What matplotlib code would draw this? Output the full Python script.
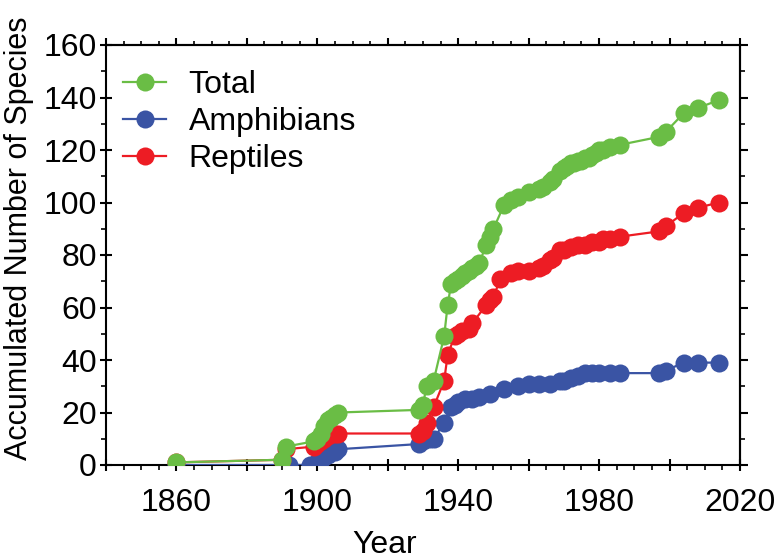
import matplotlib
matplotlib.use("Agg")
import matplotlib.pyplot as plt
from matplotlib.ticker import MultipleLocator

plt.rcParams['font.family'] = ['Liberation Sans', 'DejaVu Sans']

total_years = [1860, 1890, 1891, 1899, 1900, 1901, 1902, 1903, 1904, 1905, 1906,
               1929, 1930, 1931, 1933, 1936, 1937, 1938, 1939, 1940, 1941, 1942,
               1943, 1944, 1945, 1946, 1948, 1949, 1950, 1953, 1955, 1957, 1960,
               1963, 1964, 1966, 1967, 1969, 1970, 1971, 1972, 1973, 1974, 1975,
               1976, 1977, 1978, 1979, 1980, 1981, 1983, 1986, 1997, 1999, 2004,
               2008, 2014]
total_vals = [1, 2, 7, 9, 10, 12, 15, 17, 18, 19, 20,
              21, 23, 30, 32, 49, 61, 69, 70, 71, 72, 73,
              74, 75, 76, 77, 84, 87, 90, 99, 101, 102, 104,
              105, 106, 108, 109, 112, 113, 114, 115, 115, 116, 116,
              117, 117, 118, 119, 120, 120, 121, 122, 125, 127, 134,
              136, 139]

amph_years = [1860, 1891, 1892, 1898, 1900, 1901, 1902, 1903, 1905, 1906,
              1929, 1930, 1932, 1933, 1936, 1938, 1939, 1940, 1942, 1944,
              1946, 1949, 1953, 1957, 1960, 1963, 1966, 1969, 1970, 1972,
              1974, 1976, 1978, 1980, 1983, 1986, 1997, 1999, 2004, 2008, 2014]
amph_vals = [0, 0, 0, 0, 1, 2, 3, 4, 5, 6,
             8, 9, 10, 10, 16, 22, 23, 24, 25, 25,
             26, 27, 29, 30, 31, 31, 31, 32, 32, 33,
             34, 35, 35, 35, 35, 35, 35, 36, 39, 39, 39]

rept_years = [1860, 1890, 1891, 1899, 1900, 1901, 1902, 1903, 1905, 1906,
              1929, 1930, 1931, 1933, 1936, 1937, 1939, 1940, 1941, 1943,
              1944, 1948, 1949, 1950, 1952, 1955, 1957, 1960, 1963, 1964,
              1966, 1967, 1969, 1970, 1972, 1974, 1976, 1978, 1980, 1981,
              1983, 1986, 1997, 1999, 2004, 2008, 2014]
rept_vals = [1, 2, 6, 7, 8, 9, 10, 11, 12, 12,
             12, 13, 16, 22, 32, 42, 49, 50, 51, 52,
             54, 61, 63, 64, 71, 73, 74, 74, 75, 76,
             78, 79, 82, 82, 83, 84, 84, 85, 85, 86,
             86, 87, 89, 91, 96, 98, 100]

labels = ['Total', 'Amphibians', 'Reptiles']
xtick_vals = [1840, 1860, 1880, 1900, 1920, 1940, 1960, 1980, 2000, 2020]
xtick_labels = ['', '1860', '', '1900', '', '1940', '', '1980', '', '2020']

GREEN = '#6abd45'
BLUE = '#3a54a4'
RED = '#ed1c24'

fig = plt.figure(figsize=(7.78, 5.6), dpi=100)
ax = fig.add_axes([106 / 778, 95 / 560, 634 / 778, 420 / 560])

ms = 13
lw = 1.6
hb, = ax.plot(amph_years, amph_vals, '-o', color=BLUE, ms=ms, mew=0, lw=lw,
              label=labels[1], zorder=3)
hr, = ax.plot(rept_years, rept_vals, '-o', color=RED, ms=ms, mew=0, lw=lw,
              label=labels[2], zorder=4)
hg, = ax.plot(total_years, total_vals, '-o', color=GREEN, ms=ms, mew=0, lw=lw,
              label=labels[0], zorder=5)

ax.set_xlim(1840, 2020)
ax.set_ylim(0, 160)
ax.set_xticks(xtick_vals)
ax.set_xticklabels(xtick_labels)
ax.xaxis.set_minor_locator(MultipleLocator(5))
ax.yaxis.set_major_locator(MultipleLocator(20))
ax.yaxis.set_minor_locator(MultipleLocator(10))

for s in ax.spines.values():
    s.set_linewidth(1.5)

ax.tick_params(which='major', direction='inout', length=9, width=1.5,
               labelsize=23)
ax.tick_params(which='minor', direction='out', length=3.5, width=1.2)
ax.tick_params(axis='x', which='major', pad=12)
ax.tick_params(axis='y', which='major', pad=2)

top = ax.secondary_xaxis('top')
top.set_xticks(xtick_vals)
top.xaxis.set_minor_locator(MultipleLocator(5))
top.tick_params(which='major', direction='out', length=5, width=1.5,
                labeltop=False)
top.tick_params(which='minor', direction='out', length=3, width=1.2)
top.spines['top'].set_linewidth(1.5)

right = ax.secondary_yaxis('right')
right.yaxis.set_major_locator(MultipleLocator(20))
right.yaxis.set_minor_locator(MultipleLocator(10))
right.tick_params(which='major', direction='out', length=6, width=1.5,
                  labelright=False)
right.tick_params(which='minor', direction='out', length=3.5, width=1.2)
right.spines['right'].set_linewidth(1.5)

ax.set_xlabel('Year', fontsize=23)
ax.set_ylabel('Accumulated Number of Species', fontsize=22)
ax.xaxis.set_label_coords(0.44, -0.155)
ax.yaxis.set_label_coords(-0.113, 0.54)

ax.legend(handles=[hg, hb, hr], loc='upper left', bbox_to_anchor=(0.027, 0.94),
          frameon=False, fontsize=23, handlelength=1.35, handletextpad=0.7,
          labelspacing=0.22, borderpad=0, borderaxespad=0)

fig.savefig('out.png', dpi=100)
